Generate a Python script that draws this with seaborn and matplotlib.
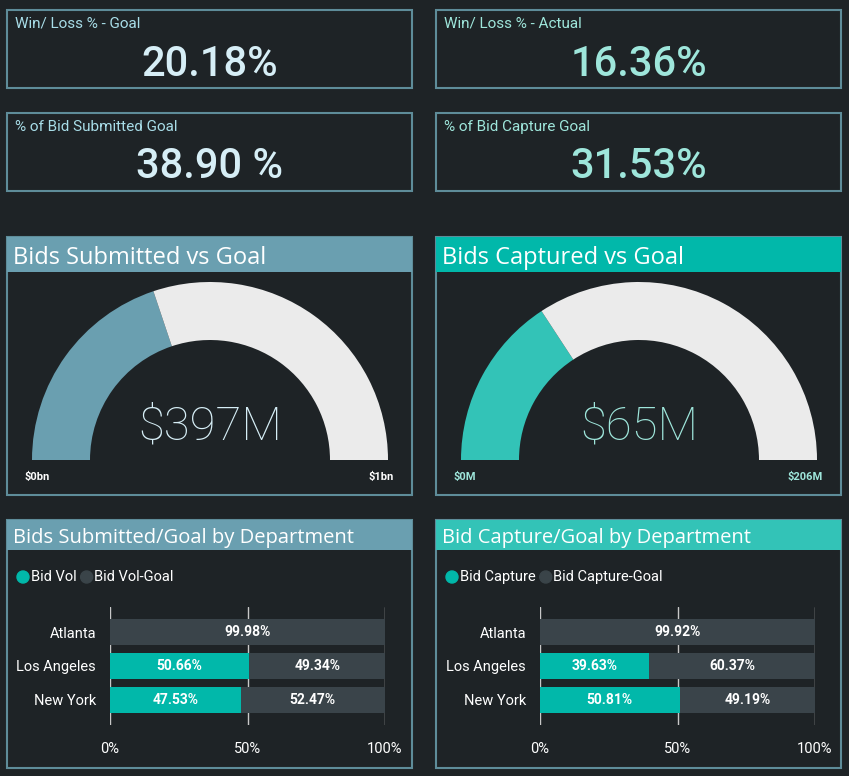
import numpy as np
import pandas as pd
import matplotlib
matplotlib.use("Agg")
import matplotlib.pyplot as plt
from matplotlib.patches import Rectangle, Wedge, Circle
import seaborn as sns

sns.set_style("dark")
plt.rcParams['font.family'] = ['Roboto', 'DejaVu Sans']

# card values
card_titles = ["Win/ Loss % - Goal", "Win/ Loss % - Actual",
               "% of Bid Submitted Goal", "% of Bid Capture Goal"]
card_values = ["20.18%", "16.36%", "38.90 %", "31.53%"]

# gauges
gauge_titles = ["Bids Submitted vs Goal", "Bids Captured vs Goal"]
gauge_values = [397, 65]
gauge_max = [1000, 206]
gauge_labels = ["$397M", "$65M"]
gauge_min_lbl = ["$0bn", "$0M"]
gauge_max_lbl = ["$1bn", "$206M"]

# department bars
departments = ["Atlanta", "Los Angeles", "New York"]
bid_vol = [0.02, 50.66, 47.53]
bid_vol_goal = [99.98, 49.34, 52.47]
bid_cap = [0.08, 39.63, 50.81]
bid_cap_goal = [99.92, 60.37, 49.19]

bg = "#1E2326"
border = "#5E8C99"
teal = "#01B8AA"
W, H = 849, 776

fig = plt.figure(figsize=(W / 100, H / 100), dpi=100, facecolor=bg)
base = fig.add_axes([0, 0, 1, 1])
base.set_xlim(0, W)
base.set_ylim(H, 0)
base.axis("off")
base.set_facecolor(bg)

# KPI cards
card_pos = [(7, 10), (436, 10), (7, 113), (436, 113)]
title_cols = ["#A8DDE8", "#9EE6DB", "#A8DDE8", "#9EE6DB"]
val_cols = ["#D6EEF6", "#9EE6DB", "#D6EEF6", "#9EE6DB"]
for (x, y), t, v, tc, vc in zip(card_pos, card_titles, card_values, title_cols, val_cols):
    base.add_patch(Rectangle((x, y), 405, 78, fill=False, ec=border, lw=1.5))
    base.text(x + 8, y + 14, t, color=tc, fontsize=11, va="center")
    base.text(x + 203, y + 54, v, color=vc, fontsize=30, ha="center", va="center",
              fontweight="medium")

# gauges
gauge_x = [7, 436]
head_cols = ["#6A9FB0", teal]
fill_cols = ["#6A9FB0", "#33C3B7"]
txt_cols = ["#D6EEF6", "#9EE6DB"]
lbl_cols = ["#FFFFFF", "#9EE6DB"]
for i in range(2):
    x = gauge_x[i]
    base.add_patch(Rectangle((x, 237), 405, 258, fill=False, ec=border, lw=1.5))
    base.add_patch(Rectangle((x, 237), 405, 35, color=head_cols[i], lw=0))
    base.text(x + 6, 258, gauge_titles[i], color="white", fontsize=17, va="center",
              family=["Open Sans", "DejaVu Sans"])
    cx, cy = x + 203, 460
    f = gauge_values[i] / gauge_max[i]
    base.add_patch(Wedge((cx, cy), 178, 180, 180 + 180 * f, width=58, color=fill_cols[i], lw=0))
    base.add_patch(Wedge((cx, cy), 178, 180 + 180 * f, 360, width=58, color="#EBEBEB", lw=0))
    base.text(cx, 427, gauge_labels[i], color=txt_cols[i], fontsize=34, ha="center",
              va="center", fontweight="light")
    base.text(x + 18, 477, gauge_min_lbl[i], color=lbl_cols[i], fontsize=8,
              fontweight="bold", va="center")
    base.text(x + 387, 477, gauge_max_lbl[i], color=lbl_cols[i], fontsize=8,
              fontweight="bold", va="center", ha="right")

# department panels
bar_titles = ["Bids Submitted/Goal by Department", "Bid Capture/Goal by Department"]
leg_names = [["Bid Vol", "Bid Vol-Goal"], ["Bid Capture", "Bid Capture-Goal"]]
series = [(bid_vol, bid_vol_goal), (bid_cap, bid_cap_goal)]
head_cols2 = ["#6A9FB0", "#33C3B7"]
ax_left = [110, 540]
for i in range(2):
    x = gauge_x[i]
    base.add_patch(Rectangle((x, 520), 405, 248, fill=False, ec=border, lw=1.5))
    base.add_patch(Rectangle((x, 520), 405, 30, color=head_cols2[i], lw=0))
    base.text(x + 6, 538, bar_titles[i], color="white", fontsize=14.5, va="center",
              family=["Open Sans", "DejaVu Sans"])
    # legend
    base.add_patch(Circle((x + 16, 577), 6, color=teal))
    t1 = base.text(x + 24, 577, leg_names[i][0], color="white", fontsize=10.5, va="center")
    fig.canvas.draw()
    bb = t1.get_window_extent()
    x2 = bb.x1 + 10
    base.add_patch(Circle((x2, 577), 6, color="#3A4449"))
    base.text(x2 + 7, 577, leg_names[i][1], color="white", fontsize=10.5, va="center")

    val, rest = series[i]
    df = pd.DataFrame({"dept": departments, "val": val, "total": 100.0,
                       "rest": rest})
    l = ax_left[i]
    ax = fig.add_axes([l / W, 1 - 725 / H, 275 / W, 118 / H])
    ax.set_facecolor("none")
    sns.barplot(data=df, y="dept", x="total", color="#3A444A", width=0.78, ax=ax,
                saturation=1, linewidth=0)
    sns.barplot(data=df, y="dept", x="val", color=teal, width=0.78, ax=ax,
                saturation=1, linewidth=0)
    for j in range(3):
        if val[j] > 5:
            ax.text(val[j] / 2, j, f"{val[j]:.2f}%", color="white", fontsize=10,
                    fontweight="bold", ha="center", va="center")
        ax.text(val[j] + rest[j] / 2, j, f"{rest[j]:.2f}%", color="white", fontsize=10,
                fontweight="bold", ha="center", va="center")
    ax.set_xlim(0, 100)
    ax.set_ylim(2.75, -0.75)
    ax.set_xticks([0, 50, 100])
    ax.set_xticklabels(["0%", "50%", "100%"])
    for v in [0, 50, 100]:
        ax.axvline(v, color="#C8C8C8", lw=1, zorder=0)
    ax.set_xlabel("")
    ax.set_ylabel("")
    ax.tick_params(colors="white", labelsize=10.5, length=0, pad=12)
    ax.tick_params(axis="y", pad=10)
    ax.grid(False)
    for s in ax.spines.values():
        s.set_visible(False)

fig.savefig("out.png", dpi=100, facecolor=bg)
